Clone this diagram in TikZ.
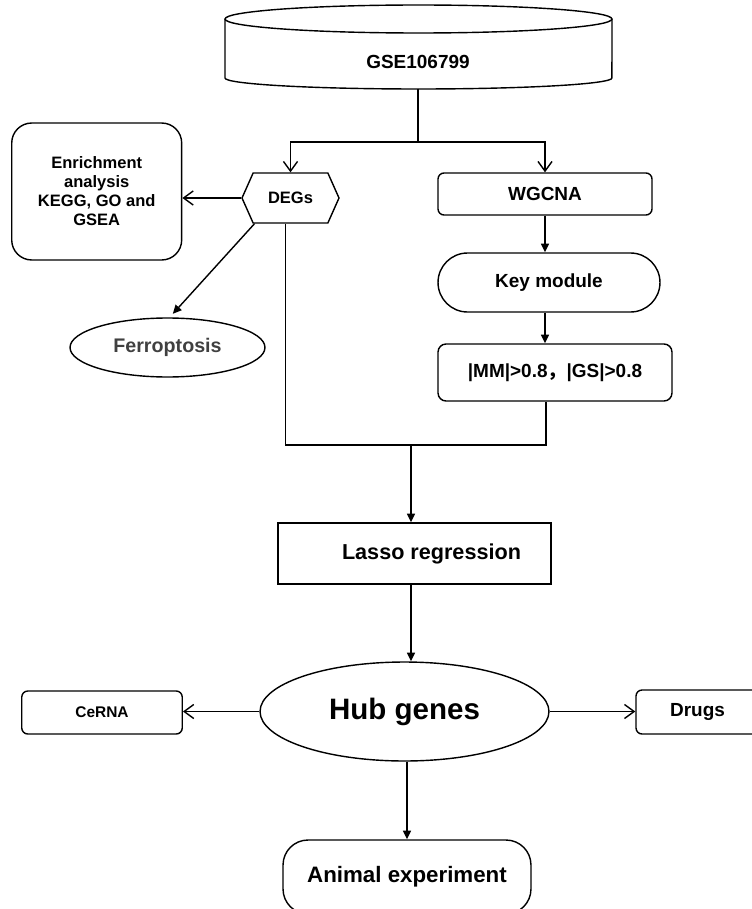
\documentclass[tikz,border=0pt]{standalone}
\usepackage{fontspec}
\setmainfont{Liberation Sans}
\newfontfamily\cjk{Noto Sans CJK SC}
\usetikzlibrary{shapes.geometric,shapes.symbols,arrows.meta,calc}

\newcommand{\fsz}[1]{\bfseries\fontsize{#1}{1.16\dimexpr#1\relax}\selectfont}

\begin{document}
\begin{tikzpicture}[x=0.02cm, y=-0.02cm,
    line/.style={line width=0.8pt},
    box/.style={draw, line width=0.8pt, inner sep=0pt, align=center},
    openarr/.style={line, -{Straight Barb[length=5.5pt,width=8pt]}},
    fillarr/.style={line, -{Triangle[length=5pt,width=4.6pt]}}]
  \useasboundingbox (0,0) rectangle (751,909);

  % data set on top
  \draw[line] (225,19) -- (225,78) arc[start angle=180, end angle=360,
    x radius=3.87cm, y radius=0.22cm] -- (612,19);
  \draw[line] (418.5,19) ellipse[x radius=3.87cm, y radius=0.28cm];
  \node[font=\fsz{10.8pt}] (gse) at (418,62) {GSE106799};
  \coordinate (gsebot) at (418,89);

  % left branch
  \node[box, signal, signal to=west and east, signal pointer angle=132,
    minimum width=1.94cm, minimum height=1cm, font=\fsz{9.4pt}]
    (degs) at (290.5,198) {DEGs};

  \node[box, rounded corners=0.4cm, minimum width=3.4cm, minimum height=2.74cm,
    font=\bfseries\fontsize{9.4pt}{10.8pt}\selectfont]
    (enrich) at (96.7,191.5) {Enrichment\\analysis\\KEGG, GO and\\GSEA};

  \node[box, ellipse, minimum width=3.9cm, minimum height=1.18cm,
    font=\fsz{11.2pt}, text=black!75]
    (ferro) at (167.5,347.5) {Ferroptosis};

  % right branch
  \node[box, rounded corners=0.12cm, minimum width=4.28cm, minimum height=0.84cm,
    font=\fsz{10.8pt}] (wgcna) at (545,194) {WGCNA};

  \node[box, rounded corners=0.59cm, minimum width=4.44cm, minimum height=1.18cm,
    font=\fsz{10.8pt}] (key) at (549,282.5) {Key module};

  \node[box, rounded corners=0.16cm, minimum width=4.68cm, minimum height=1.14cm,
    font=\fsz{10.8pt}] (mm) at (555,372.5) {|MM|>0.8{\cjk ，}|GS|>0.8};

  % main line
  \node[box, minimum width=5.46cm, minimum height=1.22cm, font=\fsz{12.3pt}]
    (lasso) at (414.5,553.5) {\hspace*{0.68cm}Lasso regression};

  \node[box, ellipse, minimum width=5.78cm, minimum height=1.98cm,
    font=\fsz{16.8pt}] (hub) at (404.5,711.5) {Hub genes};

  \node[box, rounded corners=0.12cm, minimum width=3.21cm, minimum height=0.86cm,
    font=\fsz{8.8pt}] (cerna) at (102,712.5) {CeRNA};

  \node[box, rounded corners=0.12cm, minimum width=2.46cm, minimum height=0.88cm,
    font=\fsz{10.8pt}] (drugs) at (697.5,712) {Drugs};

  \node[box, rounded corners=0.5cm, minimum width=4.96cm, minimum height=1.48cm,
    font=\fsz{12.7pt}] (animal) at (407,877) {Animal experiment};

  \coordinate (split) at (418,142);
  \coordinate (join) at (411,445);

  \draw[line] (gsebot) -- (split);
  \draw[openarr] (split) -| (degs.north);
  \draw[openarr] (split) -| (wgcna.north);
  \draw[openarr] (degs.west) -- (degs.west -| enrich.east);
  \draw[fillarr] ($(degs.south)+(-36,0)$) -- ([yshift=2pt]ferro.80);
  \draw[fillarr] (wgcna.south) -- (wgcna.south |- key.north);
  \draw[fillarr] (wgcna.south |- key.south) -- (wgcna.south |- mm.north);
  \draw[line] ($(degs.south)+(-5,0)$) |- (join) -| ($(mm.south)+(-9,0)$);
  \draw[fillarr] (join) -- (join |- lasso.north);
  \draw[fillarr] (join |- lasso.south) -- (join |- hub.north);
  \draw[openarr] (hub.west) -- (hub.west -| cerna.east);
  \draw[openarr] (hub.east) -- (hub.east -| drugs.west);
  \draw[fillarr] (animal.north |- hub.south) -- (animal.north);
\end{tikzpicture}
\end{document}
